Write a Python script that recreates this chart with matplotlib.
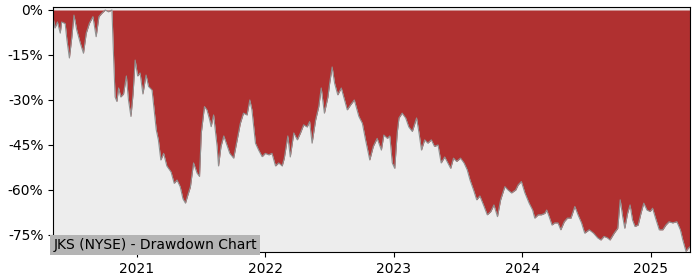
import pandas as pd
import matplotlib.pyplot as plt
import matplotlib.ticker as mticker

# Drawdown values (%)
dates = [
    "2020-05-08", "2020-05-13", "2020-05-20", "2020-05-28", "2020-06-01", "2020-06-11",
    "2020-06-16", "2020-06-23", "2020-06-30", "2020-07-06", "2020-07-14", "2020-07-24",
    "2020-08-02", "2020-08-10", "2020-08-19", "2020-08-29", "2020-09-07", "2020-09-15",
    "2020-09-23", "2020-10-03", "2020-10-12", "2020-10-22", "2020-10-27", "2020-10-31",
    "2020-11-05", "2020-11-10", "2020-11-16", "2020-11-24", "2020-12-02", "2020-12-08",
    "2020-12-15", "2020-12-21", "2020-12-27", "2021-01-03", "2021-01-10", "2021-01-18",
    "2021-01-27", "2021-02-03", "2021-02-13", "2021-02-19", "2021-02-25", "2021-03-03",
    "2021-03-10", "2021-03-18", "2021-03-27", "2021-04-08", "2021-04-17", "2021-04-25",
    "2021-05-04", "2021-05-12", "2021-05-19", "2021-05-25", "2021-06-02", "2021-06-11",
    "2021-06-21", "2021-06-28", "2021-07-03", "2021-07-12", "2021-07-19", "2021-07-27",
    "2021-07-31", "2021-08-07", "2021-08-17", "2021-08-21", "2021-08-28", "2021-09-05",
    "2021-09-12", "2021-09-22", "2021-10-03", "2021-10-13", "2021-10-22", "2021-10-31",
    "2021-11-10", "2021-11-18", "2021-11-24", "2021-12-04", "2021-12-13", "2021-12-23",
    "2022-01-01", "2022-01-11", "2022-01-20", "2022-01-30", "2022-02-08", "2022-02-18",
    "2022-02-24", "2022-03-06", "2022-03-13", "2022-03-23", "2022-04-02", "2022-04-11",
    "2022-04-20", "2022-04-30", "2022-05-07", "2022-05-14", "2022-05-24", "2022-06-02",
    "2022-06-09", "2022-06-18", "2022-06-28", "2022-07-03", "2022-07-10", "2022-07-17",
    "2022-07-26", "2022-08-05", "2022-08-12", "2022-08-22", "2022-08-31", "2022-09-11",
    "2022-09-24", "2022-10-04", "2022-10-13", "2022-10-25", "2022-11-04", "2022-11-15",
    "2022-11-27", "2022-12-04", "2022-12-14", "2022-12-21", "2022-12-28", "2023-01-04",
    "2023-01-11", "2023-01-16", "2023-01-25", "2023-02-04", "2023-02-13", "2023-02-23",
    "2023-03-01", "2023-03-07", "2023-03-14", "2023-03-21", "2023-03-30", "2023-04-08",
    "2023-04-18", "2023-04-27", "2023-05-07", "2023-05-16", "2023-05-26", "2023-06-04",
    "2023-06-12", "2023-06-20", "2023-06-29", "2023-07-10", "2023-07-20", "2023-07-29",
    "2023-08-06", "2023-08-16", "2023-08-25", "2023-09-03", "2023-09-15", "2023-09-24",
    "2023-10-04", "2023-10-13", "2023-10-23", "2023-11-01", "2023-11-13", "2023-11-22",
    "2023-12-02", "2023-12-14", "2023-12-21", "2023-12-30", "2024-01-09", "2024-01-21",
    "2024-01-31", "2024-02-06", "2024-02-16", "2024-02-25", "2024-03-06", "2024-03-11",
    "2024-03-18", "2024-03-26", "2024-04-03", "2024-04-12", "2024-04-20", "2024-04-30",
    "2024-05-09", "2024-05-19", "2024-05-30", "2024-06-08", "2024-06-18", "2024-06-27",
    "2024-07-10", "2024-07-22", "2024-08-03", "2024-08-12", "2024-08-21", "2024-08-31",
    "2024-09-07", "2024-09-19", "2024-09-29", "2024-10-06", "2024-10-13", "2024-10-19",
    "2024-10-27", "2024-11-03", "2024-11-10", "2024-11-17", "2024-11-26", "2024-12-04",
    "2024-12-12", "2024-12-21", "2024-12-30", "2025-01-06", "2025-01-16", "2025-01-25",
    "2025-02-04", "2025-02-13", "2025-02-22", "2025-03-04", "2025-03-16", "2025-03-26",
    "2025-04-02", "2025-04-11", "2025-04-18", "2025-04-23",
]
drawdown = [
    -2.7, -6.0, -4.0, -7.7, -4.0, -4.5,
    -10.0, -16.0, -9.0, -1.7, -6.7, -11.0,
    -14.4, -7.7, -4.4, -2.2, -8.9, -2.2,
    -1.1, 0.0, -0.6, 0.0, -16.7, -29.0,
    -30.5, -26.0, -29.0, -28.0, -22.0, -30.0,
    -35.5, -28.0, -16.7, -22.0, -21.0, -28.0,
    -21.7, -25.5, -26.7, -33.3, -40.0, -43.3,
    -50.0, -47.8, -52.0, -54.0, -57.8, -56.7,
    -58.9, -63.0, -64.4, -62.0, -59.0, -51.0,
    -54.4, -55.5, -41.0, -32.2, -33.3, -36.7,
    -38.9, -35.0, -45.5, -52.0, -45.5, -42.0,
    -44.4, -47.8, -49.4, -43.3, -37.8, -34.4,
    -35.0, -30.0, -33.3, -44.4, -46.7, -48.9,
    -47.8, -48.3, -47.8, -52.0, -51.0, -52.0,
    -49.4, -42.0, -49.0, -41.0, -43.3, -41.0,
    -38.3, -39.0, -37.2, -44.4, -36.7, -32.2,
    -26.0, -34.4, -29.0, -24.4, -19.0, -24.4,
    -28.3, -26.0, -29.0, -33.3, -31.7, -30.0,
    -35.5, -37.8, -43.3, -50.0, -45.5, -42.8,
    -46.7, -41.7, -42.8, -42.0, -51.0, -52.8,
    -41.0, -36.0, -34.4, -36.0, -39.0, -40.5,
    -38.3, -36.0, -41.0, -46.7, -43.3, -44.4,
    -43.3, -45.5, -45.0, -51.0, -49.0, -51.0,
    -52.8, -49.4, -50.5, -49.4, -51.0, -53.3,
    -56.7, -60.0, -63.3, -62.0, -65.5, -68.3,
    -67.2, -65.0, -68.9, -63.3, -58.9, -60.0,
    -61.0, -60.0, -58.3, -57.2, -61.0, -64.4,
    -66.7, -69.4, -68.3, -68.3, -67.8, -66.7,
    -68.9, -71.7, -71.0, -71.0, -73.3, -70.6,
    -69.4, -69.4, -65.5, -68.3, -71.0, -74.4,
    -73.3, -74.4, -76.0, -76.7, -75.5, -76.0,
    -76.7, -74.4, -72.8, -63.3, -68.9, -72.8,
    -67.8, -65.0, -70.0, -72.2, -71.7, -67.8,
    -64.4, -66.7, -67.2, -66.1, -70.0, -73.3,
    -73.3, -71.7, -70.6, -71.0, -70.6, -73.3,
    -76.7, -80.5, -79.4, -78.9,
]
y_ticks = [0, -15, -30, -45, -60, -75]

dd = pd.Series(drawdown, index=pd.to_datetime(dates))

fig = plt.figure(figsize=(7, 2.8), dpi=100)
ax = fig.add_axes([0.076, 0.1, 0.91, 0.875])
ax.set_facecolor("#ededed")

# red area between zero and the drawdown line
ax.fill_between(dd.index, 0, dd.values, color="#b03030", linewidth=0)
ax.plot(dd.index, dd.values, color="#909090", linewidth=0.8)

ax.set_xlim(dd.index[0], dd.index[-1])
ax.set_ylim(-80.7, 1.0)
ax.set_yticks(y_ticks)
ax.yaxis.set_major_formatter(mticker.FuncFormatter(lambda v, p: f"{v:.0f}%"))
ax.xaxis.set_major_locator(plt.matplotlib.dates.YearLocator())
ax.xaxis.set_major_formatter(plt.matplotlib.dates.DateFormatter("%Y"))

ax.text(0.0, 0.0, "JKS (NYSE) - Drawdown Chart", transform=ax.transAxes,
        fontsize=10, ha="left", va="bottom",
        bbox=dict(facecolor="#b4b4b4", edgecolor="none", pad=2))

plt.savefig("out.png")
